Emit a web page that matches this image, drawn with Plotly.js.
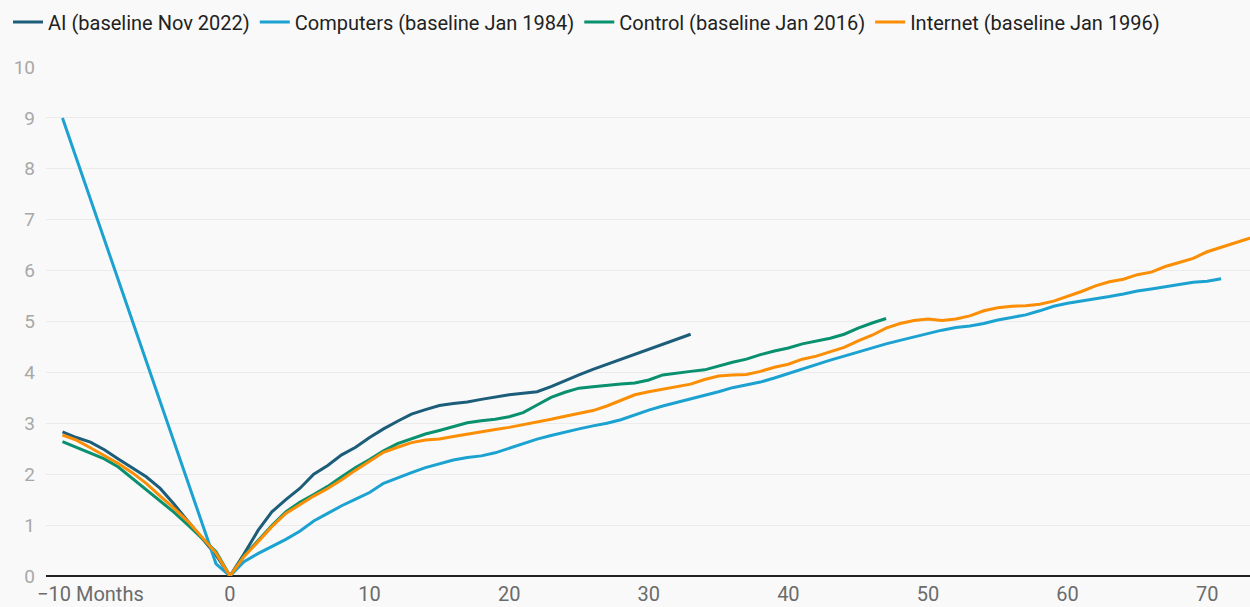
<!DOCTYPE html>
<html>
<head>
<meta charset="utf-8">
<script src="https://cdn.plot.ly/plotly-3.0.1.min.js"></script>
<style>html,body{margin:0;padding:0;background:#f9f9f9;}#chart{width:1250px;height:607px;}</style>
</head>
<body>
<div id="chart"></div>
<script>
// ---- data (months relative to baseline, values) ----
const seriesNames = ["AI (baseline Nov 2022)", "Computers (baseline Jan 1984)", "Control (baseline Jan 2016)", "Internet (baseline Jan 1996)"];

const aiMonths = [-12,-11,-10,-9,-8,-7,-6,-5,-4,-3,-2,-1,0,1,2,3,4,5,6,7,8,9,10,11,12,13,14,15,16,17,18,19,20,21,22,23,24,25,26,27,28,29,30,31,32,33];
const aiValues = [2.83,2.72,2.63,2.48,2.30,2.13,1.95,1.72,1.41,1.07,0.75,0.41,0,
  0.43,0.89,1.26,1.50,1.72,2.00,2.17,2.38,2.53,2.72,2.89,3.04,3.18,3.27,3.35,3.39,3.42,3.47,3.52,3.56,3.59,3.62,3.72,3.84,3.95,4.06,4.16,4.26,4.35,4.45,4.56,4.66,4.75];

const computersMonths = [-12,-1,0,1,2,3,4,5,6,7,8,9,10,11,12,13,14,15,16,17,18,19,20,21,22,23,24,25,26,27,28,29,30,31,32,33,34,35,36,37,38,39,40,41,42,43,44,45,46,47,48,49,50,51,52,53,54,55,56,57,58,59,60,61,62,63,64,65,66,67,68,69,70,71];
const computersValues = [9.0,0.24,0,
  0.28,0.44,0.58,0.72,0.88,1.08,1.23,1.38,1.51,1.64,
  1.82,1.93,2.03,2.13,2.21,2.28,2.33,2.36,2.42,2.51,
  2.61,2.69,2.76,2.83,2.89,2.95,3.00,3.07,3.17,3.26,
  3.34,3.41,3.47,3.54,3.62,3.70,3.75,3.81,3.89,3.98,
  4.06,4.15,4.24,4.32,4.40,4.49,4.56,4.63,4.70,4.77,
  4.83,4.88,4.91,4.96,5.03,5.08,5.13,5.21,5.30,5.36,
  5.40,5.44,5.49,5.54,5.60,5.64,5.68,5.73,5.77,5.79,5.84];

const controlMonths = [-12,-11,-10,-9,-8,-7,-6,-5,-4,-3,-2,-1,0,1,2,3,4,5,6,7,8,9,10,11,12,13,14,15,16,17,18,19,20,21,22,23,24,25,26,27,28,29,30,31,32,33,34,35,36,37,38,39,40,41,42,43,44,45,46,47];
const controlValues = [2.64,2.53,2.42,2.30,2.14,1.92,1.70,1.47,1.25,1.00,0.74,0.48,0,
  0.40,0.69,0.99,1.26,1.45,1.60,1.76,1.95,2.13,2.29,
  2.46,2.60,2.70,2.79,2.86,2.94,3.01,3.05,3.08,3.13,
  3.21,3.36,3.51,3.61,3.69,3.72,3.75,3.77,3.79,3.85,
  3.95,3.99,4.02,4.05,4.13,4.20,4.26,4.35,4.42,4.48,
  4.56,4.62,4.67,4.75,4.87,4.97,5.06];

const internetMonths = [-12,-11,-10,-9,-8,-7,-6,-5,-4,-3,-2,-1,0,1,2,3,4,5,6,7,8,9,10,11,12,13,14,15,16,17,18,19,20,21,22,23,24,25,26,27,28,29,30,31,32,33,34,35,36,37,38,39,40,41,42,43,44,45,46,47,48,49,50,51,52,53,54,55,56,57,58,59,60,61,62,63,64,65,66,67,68,69,70,71,72,73,74];
const internetValues = [2.77,2.67,2.52,2.36,2.21,2.03,1.82,1.57,1.33,1.07,0.77,0.45,0,
  0.38,0.67,0.97,1.23,1.40,1.57,1.72,1.89,2.08,2.25,
  2.43,2.53,2.62,2.67,2.69,2.74,2.79,2.83,2.88,2.92,
  2.97,3.03,3.08,3.14,3.20,3.25,3.34,3.45,3.56,3.62,
  3.67,3.72,3.77,3.86,3.93,3.95,3.96,4.02,4.10,4.16,
  4.26,4.32,4.40,4.49,4.62,4.73,4.87,4.96,5.02,5.05,
  5.02,5.05,5.11,5.21,5.27,5.30,5.31,5.34,5.40,5.49,
  5.59,5.70,5.78,5.83,5.92,5.97,6.08,6.16,6.24,6.37,
  6.46,6.55,6.63,6.72];

const xTickVals = [-10,0,10,20,30,40,50,60,70];
const xTickText = ["\u221210 Months","0","10","20","30","40","50","60","70"];
const yTickVals = [0,1,2,3,4,5,6,7,8,9,10];

// ---- styling ----
const colors = ["#1c5d7a", "#1ba2d0", "#08906f", "#fb8e04"];
const xs = [aiMonths, computersMonths, controlMonths, internetMonths];
const ys = [aiValues, computersValues, controlValues, internetValues];

const traces = seriesNames.map((name, i) => ({
  type: "scatter",
  mode: "lines",
  name: name,
  x: xs[i],
  y: ys[i],
  line: {color: colors[i], width: 3},
  hoverinfo: "x+y+name"
}));

const layout = {
  width: 1250,
  height: 607,
  paper_bgcolor: "#f9f9f9",
  plot_bgcolor: "#f9f9f9",
  font: {family: "Roboto, 'Noto Sans', sans-serif", size: 20, color: "#222"},
  margin: {l: 46, r: 0, t: 67, b: 31, pad: 0},
  showlegend: true,
  legend: {
    orientation: "h",
    xref: "container",
    yref: "container",
    x: 0.0064,
    xanchor: "left",
    y: 0.9638,
    yanchor: "middle",
    font: {size: 20, color: "#222"},
    bgcolor: "rgba(0,0,0,0)",
    itemwidth: 30,
    tracegroupgap: 0
  },
  xaxis: {
    range: [-13.18, 73.07],
    tickmode: "array",
    tickvals: xTickVals,
    ticktext: xTickText,
    showgrid: false,
    zeroline: false,
    showline: false,
    ticks: "",
    ticklabelstandoff: 4,
    tickfont: {size: 20, color: "#6b6b6b"},
    fixedrange: true
  },
  yaxis: {
    range: [0, 10],
    tickmode: "array",
    tickvals: yTickVals,
    showgrid: true,
    gridcolor: "#ebebeb",
    gridwidth: 1,
    zeroline: true,
    zerolinecolor: "#222",
    zerolinewidth: 2,
    showline: false,
    ticks: "",
    ticklabelstandoff: 10,
    tickfont: {size: 19, color: "#a8a8a8"},
    fixedrange: true
  }
};

Plotly.newPlot("chart", traces, layout, {displayModeBar: false, staticPlot: false});
</script>
</body>
</html>
